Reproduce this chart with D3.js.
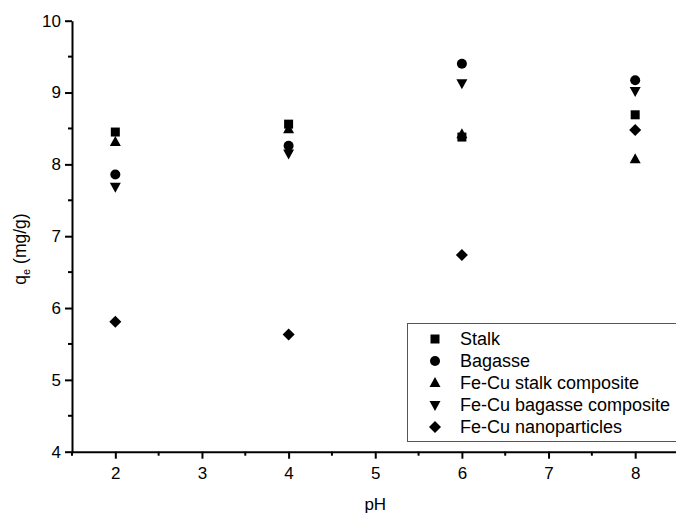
<!DOCTYPE html>
<html><head><meta charset="utf-8">
<script src="https://cdn.jsdelivr.net/npm/d3@7"></script>
<style>body{margin:0;background:#fff}svg{display:block}text{font-family:"Liberation Sans",Arial,sans-serif;fill:#000}</style>
</head><body><svg id="c" width="676" height="513"></svg>
<script>
const phValues = [2, 4, 6, 8];
const seriesNames = ["Stalk", "Bagasse", "Fe-Cu stalk composite", "Fe-Cu bagasse composite", "Fe-Cu nanoparticles"];
const stalk = [8.45, 8.56, 8.38, 8.69];
const bagasse = [7.86, 8.26, 9.40, 9.17];
const stalkComposite = [8.31, 8.49, 8.42, 8.07];
const bagasseComposite = [7.69, 8.15, 9.13, 9.02];
const nanoparticles = [5.81, 5.63, 6.74, 8.48];
const xTicks = [2, 3, 4, 5, 6, 7, 8];
const yTicks = [4, 5, 6, 7, 8, 9, 10];

const allSeries = [stalk, bagasse, stalkComposite, bagasseComposite, nanoparticles];
const shapes = ["square", "circle", "up", "down", "diamond"];

const svg = d3.select("#c");
const x = d3.scaleLinear().domain([1.5, 8.5]).range([72, 678.5]);
const y = d3.scaleLinear().domain([4, 10]).range([451.7, 20.7]);

function markerPath(s) {
  const p = d3.path();
  if (s === "square") { p.rect(-4.5, -4.5, 9, 9); }
  else if (s === "circle") { p.arc(0, 0, 5, 0, 2 * Math.PI); }
  else if (s === "up") { p.moveTo(0, -6); p.lineTo(5.5, 4); p.lineTo(-5.5, 4); p.closePath(); }
  else if (s === "down") { p.moveTo(0, 6); p.lineTo(5.5, -4); p.lineTo(-5.5, -4); p.closePath(); }
  else { p.moveTo(0, -6); p.lineTo(6, 0); p.lineTo(0, 6); p.lineTo(-6, 0); p.closePath(); }
  return p.toString();
}

// axes
const xAxis = d3.axisBottom(x).tickValues(xTicks).tickFormat(d3.format("d")).tickSize(7).tickSizeOuter(0);
const yAxis = d3.axisLeft(y).tickValues(yTicks).tickFormat(d3.format("d")).tickSize(7).tickSizeOuter(0);
const gx = svg.append("g").attr("transform", `translate(0,${y(4)})`).call(xAxis);
const gy = svg.append("g").attr("transform", `translate(${x(1.5)},0)`).call(yAxis);
[gx, gy].forEach(g => {
  g.select(".domain").attr("stroke", "#000").attr("stroke-width", 2);
  g.selectAll(".tick line").attr("stroke", "#000").attr("stroke-width", 2);
  g.selectAll(".tick text").attr("font-size", 17).attr("font-family", "Liberation Sans, Arial, sans-serif").attr("fill", "#000");
});
gx.selectAll(".tick text").attr("dy", "0.71em").attr("y", 15);
gy.selectAll(".tick text").attr("x", -11);

// minor ticks
const xMinor = d3.range(1.5, 8.6, 1);
svg.append("g").selectAll("line").data(xMinor).join("line")
  .attr("x1", d => x(d)).attr("x2", d => x(d)).attr("y1", y(4)).attr("y2", y(4) + 4)
  .attr("stroke", "#000").attr("stroke-width", 2);
const yMinor = d3.range(4.5, 10, 1);
svg.append("g").selectAll("line").data(yMinor).join("line")
  .attr("x1", x(1.5)).attr("x2", x(1.5) - 4).attr("y1", d => y(d)).attr("y2", d => y(d))
  .attr("stroke", "#000").attr("stroke-width", 2);

// labels
svg.append("text").attr("x", x(5)).attr("y", 510).attr("text-anchor", "middle").attr("font-size", 17).text("pH");
const yl = svg.append("text").attr("transform", `translate(26,249) rotate(-90)`).attr("text-anchor", "middle").attr("font-size", 17.5);
yl.append("tspan").text("q");
yl.append("tspan").attr("font-size", 11).attr("dy", 4).text("e");
yl.append("tspan").attr("dy", -4).text(" (mg/g)");

// points
allSeries.forEach((vals, i) => {
  svg.append("g").selectAll("path").data(vals).join("path")
    .attr("d", markerPath(shapes[i]))
    .attr("transform", (d, j) => `translate(${x(phValues[j])},${y(d)})`)
    .attr("fill", "#000");
});

// legend
const lg = svg.append("g");
lg.append("rect").attr("x", 407.5).attr("y", 323.5).attr("width", 270).attr("height", 118)
  .attr("fill", "#fff").attr("stroke", "#555").attr("stroke-width", 1);
seriesNames.forEach((n, i) => {
  const cy = 339 + i * 22;
  lg.append("path").attr("d", markerPath(shapes[i])).attr("transform", `translate(435,${cy})`).attr("fill", "#000");
  lg.append("text").attr("x", 460).attr("y", cy).attr("dy", "0.36em").attr("font-size", 18).text(n);
});
</script></body></html>
